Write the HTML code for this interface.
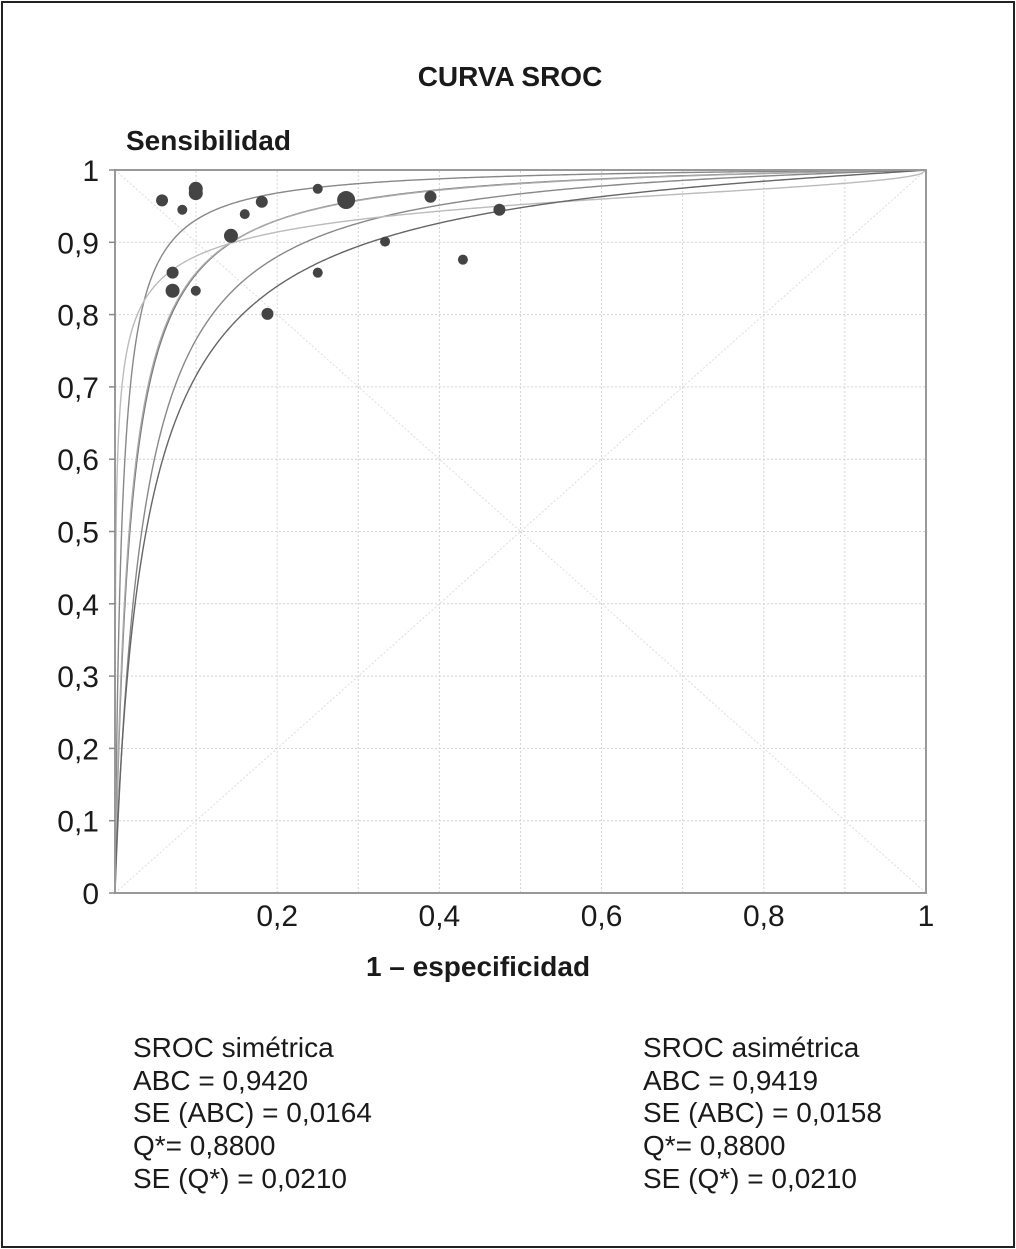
<!DOCTYPE html>
<html><head><meta charset="utf-8"><style>
html,body{margin:0;padding:0;background:#fff}
svg{display:block}
text{font-family:"Liberation Sans",Arial,sans-serif;fill:#1a1a1a}
</style></head><body>
<svg id="chart" width="1016" height="1249" viewBox="0 0 1016 1249">
<rect x="2" y="2" width="1012" height="1245" fill="#fff" stroke="#222" stroke-width="2"/>
<text x="510" y="86" font-size="28" font-weight="bold" text-anchor="middle">CURVA SROC</text>
<text x="126" y="150" font-size="28" font-weight="bold">Sensibilidad</text>
<text x="478" y="976" font-size="28" font-weight="bold" text-anchor="middle">1 – especificidad</text>
<g id="grid"></g>
<g id="curves"></g>
<g id="points"></g>
<g id="axes"></g>
<g font-size="28">
<text x="133" y="1057">SROC simétrica</text>
<text x="133" y="1090">ABC = 0,9420</text>
<text x="133" y="1122">SE (ABC) = 0,0164</text>
<text x="133" y="1155">Q*= 0,8800</text>
<text x="133" y="1188">SE (Q*) = 0,0210</text>
</g>
<g font-size="28">
<text x="643" y="1057">SROC asimétrica</text>
<text x="643" y="1090">ABC = 0,9419</text>
<text x="643" y="1122">SE (ABC) = 0,0158</text>
<text x="643" y="1155">Q*= 0,8800</text>
<text x="643" y="1188">SE (Q*) = 0,0210</text>
</g>
</svg>
<script>
const studyFpr = [0.058,0.0996,0.0996,0.083,0.181,0.160,0.143,0.250,0.285,0.389,0.474,0.333,0.429,0.250,0.071,0.071,0.0996,0.188];
const studyTpr = [0.958,0.974,0.968,0.945,0.956,0.939,0.909,0.974,0.9585,0.963,0.945,0.901,0.876,0.858,0.858,0.833,0.833,0.801];
const studyWeight = [6,7,7,5,6,5,7,5,9,6,6,5,5,5,6,7,5,6];
const curveIntercept = [4.8,3.98,3.95,3.38,2.99,2.9];
const curveSlope = [1,1,0.98,1,0.45,0.9];
const curveColor = ["#888","#777","#aaa","#888","#bbb","#666"];
const yTicks = ["0","0,1","0,2","0,3","0,4","0,5","0,6","0,7","0,8","0,9","1"];
const xTicks = ["0,2","0,4","0,6","0,8","1"];
const xTickVals = [0.2,0.4,0.6,0.8,1];

const X0=115,X1=926,Y0=893,Y1=170;
const sx=v=>X0+v*(X1-X0), sy=v=>Y0-v*(Y0-Y1);
const NS="http://www.w3.org/2000/svg";
function mk(tag,attrs,parent){const e=document.createElementNS(NS,tag);for(const k in attrs)e.setAttribute(k,attrs[k]);parent.appendChild(e);return e;}
const grid=document.getElementById('grid'),curves=document.getElementById('curves'),pts=document.getElementById('points'),axes=document.getElementById('axes');
for(let i=1;i<10;i++){
  const v=i/10;
  let g=mk('line',{x1:sx(v),x2:sx(v),y1:sy(0),y2:sy(1),stroke:'#d4d4d4','stroke-dasharray':'2,2'},grid);
  
  
  g=mk('line',{x1:sx(0),x2:sx(1),y1:sy(v),y2:sy(v),stroke:'#d4d4d4','stroke-dasharray':'2,2'},grid);
  
  
}
let d1=mk('line',{x1:sx(0),y1:sy(0),x2:sx(1),y2:sy(1),stroke:'#ddd','stroke-dasharray':'2,2'},grid);


let d2=mk('line',{x1:sx(0),y1:sy(1),x2:sx(1),y2:sy(0),stroke:'#ddd','stroke-dasharray':'2,2'},grid);


const logit=p=>Math.log(p/(1-p)), inv=l=>1/(1+Math.exp(-l));
curveIntercept.forEach((a,i)=>{
  const b=curveSlope[i];let d='M'+sx(0)+','+sy(0);
  for(let k=1;k<400;k++){const x=Math.pow(k/400,2.2);const y=inv(a+b*logit(x));d+=' L'+sx(x).toFixed(2)+','+sy(y).toFixed(2);}
  d+=' L'+sx(1)+','+sy(1);
  const p=mk('path',{d:d,fill:'none',stroke:curveColor[i],'stroke-width':1.4},curves);
  
  
});
studyFpr.forEach((x,i)=>{
  const c=mk('circle',{cx:sx(x),cy:sy(studyTpr[i]),r:studyWeight[i],fill:'#444'},pts);
  
  
});
let ax=mk('path',{d:`M${X0},${Y1} L${X1},${Y1} L${X1},${Y0} L${X0},${Y0} Z`,fill:'none',stroke:'#999','stroke-width':2},axes);


yTicks.forEach((t,i)=>{
  const v=i/10;
  const l=mk('line',{x1:X0-6,x2:X0,y1:sy(v),y2:sy(v),stroke:'#888','stroke-width':1.5},axes);
  
  
  const tx=mk('text',{x:99,y:sy(v)+11,'font-size':30,'text-anchor':'end'},axes);
  tx.textContent=t;
  
  
});
xTicks.forEach((t,i)=>{
  const tx=mk('text',{x:sx(xTickVals[i]),y:926,'font-size':30,'text-anchor':'middle'},axes);
  tx.textContent=t;
  
  
});
</script>
</body></html>
